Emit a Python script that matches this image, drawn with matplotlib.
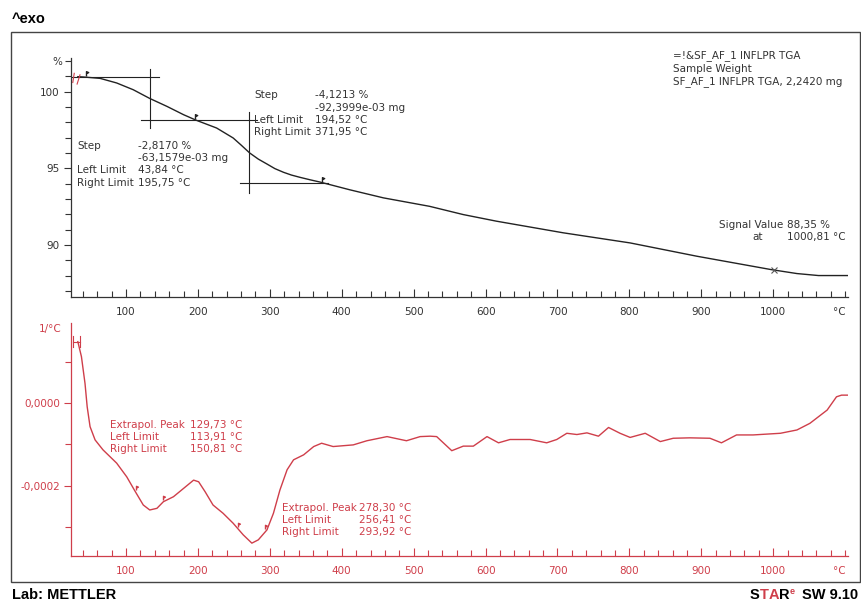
import matplotlib
matplotlib.use('Agg')
import matplotlib.pyplot as plt
import numpy as np
from matplotlib.path import Path
from matplotlib.patches import Rectangle

plt.rcParams['font.family'] = ['DejaVu Sans']

# TGA curve (sample weight, %)
tga_t = [33, 41, 64, 87, 110, 133, 157, 180, 198, 226, 249, 260, 272, 284, 296, 307,
         319, 330, 342, 356, 370, 411, 458, 522, 569, 615, 708, 801, 894, 997, 1033,
         1063, 1104]
tga_w = [100.98, 100.96, 100.87, 100.57, 100.13, 99.56, 99.04, 98.50, 98.13, 97.63,
         96.98, 96.52, 96.00, 95.60, 95.28, 94.98, 94.74, 94.56, 94.41, 94.25, 94.10,
         93.60, 93.07, 92.52, 91.98, 91.55, 90.79, 90.13, 89.26, 88.39, 88.13, 88.00,
         88.00]

# DTG curve (1/°C)
dtg_t = [33, 38, 43, 46, 50, 57, 68, 87, 101, 112, 124, 133, 143, 152, 166, 180,
         194, 201, 210, 221, 235, 249, 263, 275, 284, 296, 305, 314, 324, 333, 347,
         361, 372, 388, 416, 435, 463, 490, 509, 523, 532, 553, 569, 583, 602, 618,
         634, 662, 685, 699, 713, 727, 741, 757, 771, 787, 801, 822, 843, 861, 884,
         912, 928, 949, 972, 1010, 1033, 1051, 1075, 1088, 1095, 1104]
dtg_v = [1.48, 1.12, 0.47, -0.09, -0.57, -0.89, -1.13, -1.45, -1.78, -2.11, -2.46,
         -2.58, -2.54, -2.38, -2.26, -2.06, -1.86, -1.90, -2.14, -2.46, -2.66, -2.90,
         -3.18, -3.38, -3.30, -3.06, -2.66, -2.10, -1.61, -1.37, -1.25, -1.05, -0.97,
         -1.05, -1.01, -0.91, -0.81, -0.91, -0.81, -0.80, -0.81, -1.15, -1.04, -1.04,
         -0.81, -0.96, -0.88, -0.88, -0.96, -0.88, -0.73, -0.76, -0.72, -0.80, -0.59,
         -0.73, -0.83, -0.73, -0.93, -0.85, -0.84, -0.85, -0.96, -0.77, -0.77, -0.73,
         -0.65, -0.49, -0.17, 0.15, 0.19, 0.19]
dtg_v = [v * 1e-4 for v in dtg_v]

# step evaluation results
step1_pct, step1_mg, step1_left, step1_right = -2.8170, '-63,1579e-03 mg', 43.84, 195.75
step2_pct, step2_mg, step2_left, step2_right = -4.1213, '-92,3999e-03 mg', 194.52, 371.95
step_mid = [133, 271]
signal_t, signal_w = 1000.81, 88.35

# peak evaluation results
peak1 = (129.73, 113.91, 150.81)
peak2 = (278.30, 256.41, 293.92)

x_ticks = [100, 200, 300, 400, 500, 600, 700, 800, 900, 1000]

W, H = 861, 606
INK = '#333333'
RED = '#cf3e4a'

fig = plt.figure(figsize=(W / 100, H / 100), dpi=100)


def px(x, y):
    return x / W, 1 - y / H


def axes_px(left, top, right, bottom):
    return [left / W, 1 - bottom / H, (right - left) / W, (bottom - top) / H]


def fmt(v):
    return f'{v:.2f}'.replace('.', ',')


fig.add_artist(Rectangle(px(11, 582), 849 / W, 550 / H, transform=fig.transFigure,
                         fill=False, lw=1.0, ec='#444444'))

flag = Path([(0, 0), (0, 1.0), (0.45, 0.8), (0, 0.6)],
            [Path.MOVETO, Path.LINETO, Path.LINETO, Path.LINETO])


def style_axes(ax, color):
    for s in ['top', 'right']:
        ax.spines[s].set_visible(False)
    for s in ['left', 'bottom']:
        ax.spines[s].set_color(color)
        ax.spines[s].set_linewidth(0.9)
    ax.set_xlim(23.5, 1104)
    ax.set_xticks(x_ticks)
    ax.set_xticks(np.arange(40, 1101, 20), minor=True)
    ax.set_xticklabels([str(t) for t in x_ticks])
    ax.tick_params(axis='x', which='major', direction='in', length=6, width=0.8,
                   colors=color, labelsize=7.5, pad=7)
    ax.tick_params(axis='x', which='minor', direction='in', length=4, width=0.8, colors=color)
    ax.tick_params(axis='y', which='major', direction='out', length=5, width=0.8,
                   colors=color, labelsize=7.5, pad=3)
    ax.tick_params(axis='y', which='minor', direction='out', length=4, width=0.8, colors=color)
    ax.patch.set_alpha(0)
    ax.annotate('°C', xy=(1092, 0), xycoords=ax.get_xaxis_transform(),
                xytext=(0, -7), textcoords='offset points', ha='center', va='top',
                fontsize=7.5, color=color)


# --- weight curve
ax1 = fig.add_axes(axes_px(71, 58, 848, 297))
style_axes(ax1, INK)
ax1.set_ylim(86.6, 102.2)
ax1.set_yticks([90, 95, 100])
ax1.set_yticks(np.arange(87, 103, 1), minor=True)
ax1.plot(tga_t, tga_w, color='#222222', lw=1.0)

lvl_a = np.interp(step1_left, tga_t, tga_w)
lvl_b = lvl_a + step1_pct
lvl_c = lvl_b + step2_pct
ax1.plot([21, 146], [lvl_a, lvl_a], color='#222222', lw=0.8)
ax1.plot([step_mid[0]] * 2, [101.5, 97.6], color='#222222', lw=0.8)
ax1.plot([121, 282], [lvl_b, lvl_b], color='#222222', lw=0.8)
ax1.plot([step_mid[1]] * 2, [98.7, 93.4], color='#222222', lw=0.8)
ax1.plot([258, 381], [lvl_c, lvl_c], color='#222222', lw=0.8)
for t in [step1_left, step1_right, step2_right]:
    ax1.plot(t, np.interp(t, tga_t, tga_w) + 0.05, marker=flag, ms=7, color='#222222',
             mew=1.0, mfc='#222222')
ax1.plot(signal_t, signal_w, marker='x', ms=5, color='#555555', mew=0.8)
ax1.plot([26, 28], [100.6, 101.2], color=RED, lw=0.8)
ax1.plot([32, 36], [100.5, 101.1], color=RED, lw=0.8)

txt = dict(fontsize=7.5, color=INK, va='center')
fig.text(*px(254, 95), 'Step', **txt)
fig.text(*px(315, 95), f'{step2_pct:.4f} %'.replace('.', ','), **txt)
fig.text(*px(315, 108), step2_mg, **txt)
fig.text(*px(254, 120), 'Left Limit', **txt)
fig.text(*px(315, 120), f'{fmt(step2_left)} °C', **txt)
fig.text(*px(254, 132), 'Right Limit', **txt)
fig.text(*px(315, 132), f'{fmt(step2_right)} °C', **txt)

fig.text(*px(77, 146), 'Step', **txt)
fig.text(*px(138, 146), f'{step1_pct:.4f} %'.replace('.', ','), **txt)
fig.text(*px(138, 158), step1_mg, **txt)
fig.text(*px(77, 170), 'Left Limit', **txt)
fig.text(*px(138, 170), f'{fmt(step1_left)} °C', **txt)
fig.text(*px(77, 183), 'Right Limit', **txt)
fig.text(*px(138, 183), f'{fmt(step1_right)} °C', **txt)

fig.text(*px(673, 56), '=!&SF_AF_1 INFLPR TGA', **txt)
fig.text(*px(673, 69), 'Sample Weight', **txt)
fig.text(*px(673, 82), 'SF_AF_1 INFLPR TGA, 2,2420 mg', **txt)

fig.text(*px(719, 225), 'Signal Value', **txt)
fig.text(*px(787, 225), f'{fmt(signal_w)} %', **txt)
fig.text(*px(763, 237), 'at', ha='right', fontsize=7.5, color=INK, va='center')
fig.text(*px(787, 237), f'{fmt(signal_t)} °C', **txt)
fig.text(*px(62, 62), '%', ha='right', fontsize=7.5, color=INK, va='center')

# --- derivative curve
ax2 = fig.add_axes(axes_px(71, 323, 848, 556))
style_axes(ax2, RED)
ax2.set_ylim(-3.69e-4, 1.93e-4)
ax2.set_yticks([-2e-4, 0])
ax2.set_yticklabels(['-0,0002', '0,0000'])
ax2.set_yticks([-3e-4, -1e-4, 1e-4], minor=True)
ax2.plot(dtg_t, dtg_v, color=RED, lw=1.0)
for t in [peak1[1], peak1[2], peak2[1], peak2[2]]:
    ax2.plot(t, np.interp(t, dtg_t, dtg_v) + 0.06e-4, marker=flag, ms=6, color=RED,
             mew=1.0, mfc=RED)
ax2.plot([26, 36], [1.48e-4, 1.48e-4], color=RED, lw=0.8)
ax2.plot([26, 26], [1.35e-4, 1.61e-4], color=RED, lw=0.8)
ax2.plot([36, 36], [1.35e-4, 1.61e-4], color=RED, lw=0.8)

rtxt = dict(fontsize=7.5, color=RED, va='center')
fig.text(*px(110, 425), 'Extrapol. Peak', **rtxt)
fig.text(*px(190, 425), f'{fmt(peak1[0])} °C', **rtxt)
fig.text(*px(110, 437), 'Left Limit', **rtxt)
fig.text(*px(190, 437), f'{fmt(peak1[1])} °C', **rtxt)
fig.text(*px(110, 449), 'Right Limit', **rtxt)
fig.text(*px(190, 449), f'{fmt(peak1[2])} °C', **rtxt)

fig.text(*px(282, 508), 'Extrapol. Peak', **rtxt)
fig.text(*px(359, 508), f'{fmt(peak2[0])} °C', **rtxt)
fig.text(*px(282, 520), 'Left Limit', **rtxt)
fig.text(*px(359, 520), f'{fmt(peak2[1])} °C', **rtxt)
fig.text(*px(282, 532), 'Right Limit', **rtxt)
fig.text(*px(359, 532), f'{fmt(peak2[2])} °C', **rtxt)
fig.text(*px(62, 329), '1/°C', ha='right', fontsize=7.5, color=RED, va='center')

# --- header / footer
bold = dict(fontsize=10.5, fontweight='bold', family='Liberation Sans', color='black',
            va='center')
fig.text(*px(12, 19), '^exo', **bold)
fig.text(*px(12, 595), 'Lab: METTLER', **bold)

fig.canvas.draw()
renderer = fig.canvas.get_renderer()
x = 858
pieces = [('SW 9.10', 'black', 0), (' ', 'black', 0), ('e', RED, 1), ('R', 'black', 0),
          ('A', RED, 0), ('T', RED, 0), ('S', 'black', 0)]
for s, c, sup in pieces:
    kw = dict(bold)
    kw['color'] = c
    if sup:
        kw['fontsize'] = 6.5
    t = fig.text(*px(x, 592 if sup else 595), s, ha='right', **kw)
    x -= t.get_window_extent(renderer).width + (0 if s.strip() else 3)

fig.savefig('out.png', dpi=100)
